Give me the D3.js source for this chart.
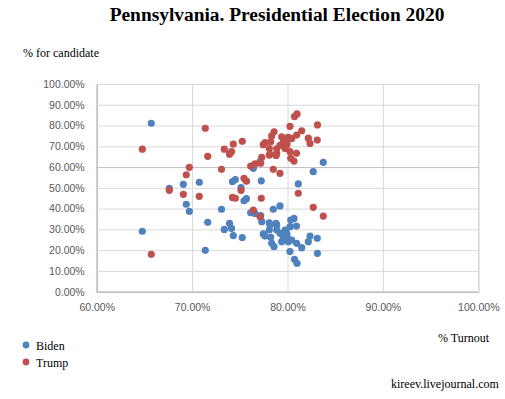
<!DOCTYPE html>
<html><head><meta charset="utf-8">
<script src="https://cdnjs.cloudflare.com/ajax/libs/d3/7.8.5/d3.min.js"></script>
<style>body{margin:0;background:#fff}svg{display:block}</style>
</head><body><div id="chart"></div>
<script>
// County-level points: turnout (%), Biden share (%), Trump share (%)
const turnout = [65.72,64.78,67.61,69.08,69.39,69.71,70.75,71.38,71.64,73.08,73.38,73.92,74.13,74.32,74.23,74.53,75.13,75.44,75.70,76.42,76.14,76.59,77.12,77.19,77.25,75.26,77.46,77.64,77.30,78.09,78.09,78.24,78.34,78.59,78.51,79.21,78.87,79.21,79.39,79.74,79.92,80.08,80.26,80.26,80.44,80.73,81.00,80.96,81.49,82.18,82.36,83.12,83.14,81.13,80.68,80.34,80.94,82.70,83.75,78.87,79.56,79.95,78.80,78.17];
const biden   = [81.1,29.1,49.8,51.7,42.1,38.7,52.7,19.9,33.4,39.7,30.0,32.9,30.5,27.0,53.0,54.0,50.1,43.8,44.8,59.4,38.0,37.7,62.6,36.6,53.4,26.1,27.8,26.8,33.7,33.2,29.7,26.2,23.3,21.7,39.7,41.3,32.1,28.1,24.1,29.7,28.1,24.1,31.3,19.3,24.9,15.6,13.7,23.3,21.2,24.1,26.8,25.7,18.5,51.9,35.3,34.5,31.6,57.8,62.3,29.7,26.5,26.8,32.9,32.1];
const trump   = [18.0,68.6,48.8,46.9,56.3,59.9,45.9,78.7,65.2,58.9,68.6,66.2,67.4,71.1,45.4,45.0,48.8,54.6,53.2,39.3,60.5,61.5,36.1,61.8,45.0,72.4,70.8,71.8,64.7,65.8,68.9,72.2,75.0,77.0,58.9,57.0,66.5,70.5,74.6,68.9,70.6,74.3,67.4,79.6,73.8,84.3,85.6,75.4,77.5,73.9,71.4,73.0,80.3,47.4,62.9,64.2,66.6,40.6,36.4,68.8,72.0,71.5,65.6,66.3];
const seriesNames = ["Biden","Trump"];
const seriesColors = ["#4f81bd","#c0504d"];
const xTicks = [60,70,80,90,100];
const yTicks = [0,10,20,30,40,50,60,70,80,90,100];

const W = 505, H = 399;
const svg = d3.select("#chart").append("svg").attr("width", W).attr("height", H);
const x = d3.scaleLinear().domain([60,100]).range([96.7,478.3]);
const y = d3.scaleLinear().domain([0,100]).range([291.7,84]);
const fmt = v => v.toFixed(2) + "%";

// title
svg.append("text").attr("x",277).attr("y",21).attr("text-anchor","middle")
  .style("font-family","'Liberation Serif','Times New Roman',serif").style("font-weight","bold")
  .style("font-size","19.4px").attr("fill","#000").text("Pennsylvania. Presidential Election 2020");
svg.append("text").attr("x",23).attr("y",57)
  .style("font-family","'Liberation Serif',serif").style("font-size","12px").text("% for candidate");

// grid
const g = svg.append("g");
g.append("g").attr("transform","translate(0,291.7)")
  .call(d3.axisBottom(x).tickValues(xTicks).tickSize(-(291.7-84)).tickFormat(fmt).tickPadding(12))
  .call(s=>{s.select(".domain").attr("stroke","#bfbfbf");
    s.selectAll(".tick line").attr("stroke","#d9d9d9");
    s.selectAll(".tick text").attr("fill","#595959").style("font-family","'Liberation Sans',Arial,sans-serif").style("font-size","10.5px").attr("dy","0.71em");});
g.append("g").attr("transform","translate(96.7,0)")
  .call(d3.axisLeft(y).tickValues(yTicks).tickSize(-(478.3-96.7)).tickFormat(fmt).tickPadding(12))
  .call(s=>{s.select(".domain").attr("stroke","#bfbfbf");
    s.selectAll(".tick line").attr("stroke", d => d===0 ? "#bfbfbf" : "#d9d9d9");
    s.selectAll(".tick text").attr("fill","#595959").style("font-family","'Liberation Sans',Arial,sans-serif").style("font-size","10.5px");});
g.selectAll(".tick").filter(d=>d===60).select("line").attr("stroke","#bfbfbf");

// points
const data = turnout.map((t,i)=>({t, b: biden[i], tr: trump[i]}));
const series = [data.map(d=>({x:d.t,y:d.b})), data.map(d=>({x:d.t,y:d.tr}))];
series.forEach((pts,si)=>{
  svg.append("g").selectAll("circle").data(pts).join("circle")
    .attr("cx",d=>x(d.x)).attr("cy",d=>y(d.y)).attr("r",3.6).attr("fill",seriesColors[si]);
});

// axis title
svg.append("text").attr("x",438).attr("y",342)
  .style("font-family","'Liberation Serif',serif").style("font-size","12px").text("% Turnout");

// legend
const leg = svg.append("g");
seriesNames.forEach((n,i)=>{
  leg.append("circle").attr("cx",26).attr("cy",345+i*17).attr("r",3.4).attr("fill",seriesColors[i]);
  leg.append("text").attr("x",36).attr("y",349.5+i*17)
    .style("font-family","'Liberation Serif',serif").style("font-size","12px").text(n);
});
svg.append("text").attr("x",391).attr("y",388)
  .style("font-family","'Liberation Serif',serif").style("font-size","12px").text("kireev.livejournal.com");
</script></body></html>
